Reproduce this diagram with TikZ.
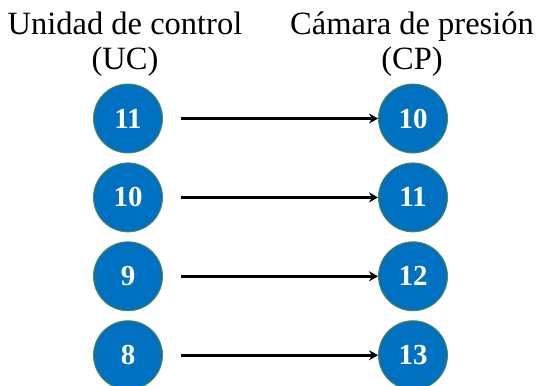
\documentclass[tikz,border=0pt]{standalone}
\usepackage{fontspec}
\setmainfont{Liberation Serif}
\usetikzlibrary{arrows.meta,positioning}
\definecolor{cblue}{HTML}{0070C0}
\definecolor{cgreen}{HTML}{5B8A3C}

\begin{document}
\begin{tikzpicture}[
  x=1pt, y=1pt,
  port/.style={
    circle,
    draw=cgreen,
    fill=cblue,
    line width=0.9pt,
    minimum size=69pt,
    inner sep=0pt,
    text=white,
    font=\fontsize{29}{30}\selectfont\bfseries
  },
  title/.style={
    align=center,
    inner sep=0pt,
    anchor=north,
    font=\fontsize{32.5}{35}\selectfont
  },
  flow/.style={-{Stealth[length=9pt,width=10pt]}, line width=2.8pt, shorten <=18pt}
]
\useasboundingbox (0,0) rectangle (537,-385);

\node[title] (uc) at (125,-12) {Unidad de control\\(UC)};
\node[title] (cp) at (412,-12) {Cámara de presión\\(CP)};

% unidad de control
\node[port] (uc11) at (128,-118.5) {11};
\node[port, below=9pt of uc11] (uc10) {10};
\node[port, below=9pt of uc10] (uc9) {9};
\node[port, below=9pt of uc9] (uc8) {8};

% camara de presion
\node[port] (cp10) at (413,-118.5) {10};
\node[port, below=9pt of cp10] (cp11) {11};
\node[port, below=9pt of cp11] (cp12) {12};
\node[port, below=9pt of cp12] (cp13) {13};

\draw[flow] (uc11) -- (cp10);
\draw[flow] (uc10) -- (cp11);
\draw[flow] (uc9) -- (cp12);
\draw[flow] (uc8) -- (cp13);

\end{tikzpicture}
\end{document}
